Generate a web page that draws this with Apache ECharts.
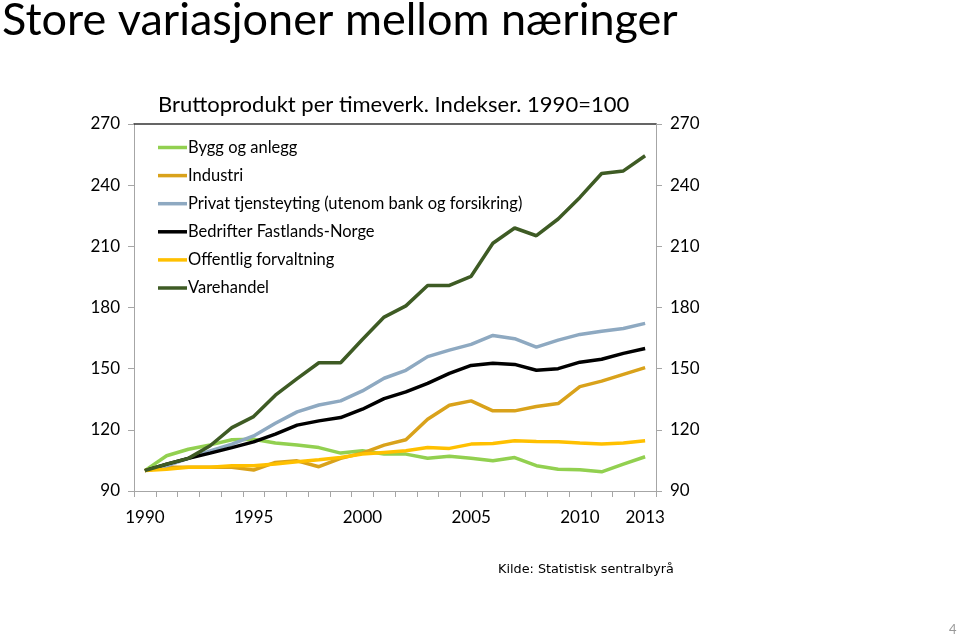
<!DOCTYPE html>
<html>
<head>
<meta charset="utf-8">
<script src="https://cdn.jsdelivr.net/npm/echarts@6/dist/echarts.min.js"></script>
<style>html,body{margin:0;padding:0;background:#fff;}#c{width:960px;height:636px;}</style>
</head>
<body>
<div id="c"></div>
<script>
const years = ['1990','1991','1992','1993','1994','1995','1996','1997','1998','1999','2000','2001','2002','2003','2004','2005','2006','2007','2008','2009','2010','2011','2012','2013'];
const shownYears = ['1990','1995','2000','2005','2010','2013'];
const yTicks = [90, 120, 150, 180, 210, 240, 270];

const byggOgAnlegg = [100,107.3,110.5,112.6,115.1,115.4,113.5,112.6,111.3,108.6,109.7,108.1,108.1,106.1,107,106.1,104.8,106.4,102.4,100.7,100.4,99.4,103.2,106.8];
const industri = [100,101.6,101.6,101.6,101.6,100.3,104,104.8,101.9,106,108.6,112.5,115.1,125.2,132.1,134.2,129.3,129.3,131.4,132.9,141.2,143.9,147.2,150.5];
const privatTjenesteyting = [100,102.4,106,109.7,113,117,123.2,128.8,132.2,134.2,139.1,145.3,149.2,155.9,159.1,161.9,166.3,164.7,160.6,164,166.8,168.4,169.7,172.2];
const bedrifterFastland = [100,103.2,106,108.6,111.3,114.1,117.9,122.3,124.4,126,130.1,135.3,138.6,142.8,147.7,151.6,152.6,152.1,149.2,150,153.2,154.6,157.5,159.9];
const offentligForvaltning = [100,100.7,101.6,101.6,102.4,102.4,103.2,104.3,105.3,106.4,108.1,108.9,109.7,111.3,110.9,113,113.3,114.6,114.3,114.1,113.5,113,113.5,114.6];
const varehandel = [100,103.2,106,112.2,121.1,126.5,137,145.1,152.9,152.9,164.3,175.3,180.8,190.8,190.8,195.3,211.5,219,215.2,223.4,234,245.7,247,254.4];

const seriesNames = ['Bygg og anlegg','Industri','Privat tjensteyting (utenom bank og forsikring)','Bedrifter Fastlands-Norge','Offentlig forvaltning','Varehandel'];
const seriesData = [byggOgAnlegg, industri, privatTjenesteyting, bedrifterFastland, offentligForvaltning, varehandel];
const seriesColors = ['#92D050','#D9A21B','#8EA9C1','#000000','#FFC000','#3E5B24'];

const FONT = 'Lato';
const chart = echarts.init(document.getElementById('c'), null, {renderer:'canvas'});

const yAxisCommon = {
  type: 'value', min: yTicks[0], max: yTicks[yTicks.length-1], interval: 30,
  axisLine: {show: true, lineStyle: {color: '#A6A6A6', width: 1}},
  axisTick: {show: true, inside: false, length: 6, lineStyle: {color: '#A6A6A6'}},
  splitLine: {show: false},
  axisLabel: {color: '#000', fontFamily: FONT, fontSize: 17, margin: 14}
};

chart.setOption({
  animation: false,
  backgroundColor: '#fff',
  title: [
    {text: 'Store variasjoner mellom næringer', left: -3, top: -7,
     textStyle: {fontFamily: FONT, fontSize: 45, fontWeight: 'normal', color: '#000'}},
    {text: 'Bruttoprodukt per timeverk. Indekser. 1990=100', left: 153, top: 89,
     textStyle: {fontFamily: FONT, fontSize: 22, fontWeight: 'normal', color: '#000'}},
    {text: 'Kilde: Statistisk sentralbyrå', left: 493, top: 558,
     textStyle: {fontFamily: 'DejaVu Sans', fontSize: 12.8, fontWeight: 'normal', color: '#000'}},
    {text: '4', left: 944, top: 618,
     textStyle: {fontFamily: FONT, fontSize: 13, fontWeight: 'normal', color: '#999'}}
  ],
  legend: {
    orient: 'vertical', left: 153, top: 134,
    icon: 'rect',
    itemWidth: 29, itemHeight: 3.5, itemGap: 11.1,
    textStyle: {fontFamily: FONT, fontSize: 16.5, color: '#000', padding: [0,0,0,-4]},
    data: seriesNames
  },
  grid: {left: 134, right: 304, top: 124, bottom: 145, containLabel: false},
  xAxis: [
    {
      type: 'category', data: years, boundaryGap: true, position: 'bottom',
      axisLine: {show: true, lineStyle: {color: '#A6A6A6', width: 1}},
      axisTick: {show: true, interval: 0, alignWithLabel: false, length: 6, lineStyle: {color: '#A6A6A6'}},
      axisLabel: {
        interval: function (idx, val) { return shownYears.indexOf(val) >= 0; },
        color: '#000', fontFamily: FONT, fontSize: 17, margin: 18
      },
      splitLine: {show: false}
    },
    {
      type: 'category', data: years, boundaryGap: true, position: 'top',
      axisLine: {show: true, lineStyle: {color: '#333', width: 1.5}},
      axisTick: {show: false}, axisLabel: {show: false}, splitLine: {show: false}
    }
  ],
  yAxis: [
    Object.assign({position: 'left'}, yAxisCommon),
    Object.assign({position: 'right'}, yAxisCommon)
  ],
  series: seriesNames.map((name, i) => ({
    name: name, type: 'line', data: seriesData[i],
    xAxisIndex: 0, yAxisIndex: 0,
    symbol: 'none', smooth: false,
    color: seriesColors[i],
    lineStyle: {color: seriesColors[i], width: 3.5},
    itemStyle: {color: seriesColors[i]}
  }))
});
</script>
</body>
</html>
